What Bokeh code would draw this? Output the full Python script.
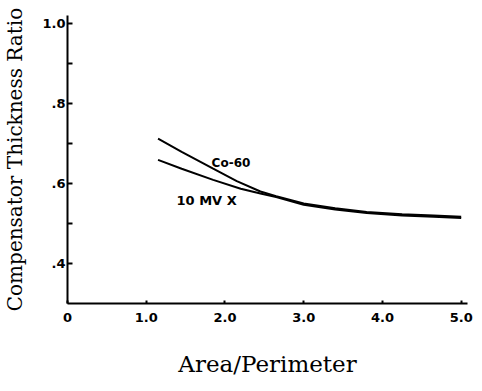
from bokeh.plotting import figure
from bokeh.models import Range1d, FixedTicker
from bokeh.embed import file_html
from bokeh.resources import INLINE
from bokeh.core.properties import value

# Data
x_co = [1.15, 1.45, 1.85, 2.15, 2.45, 2.65, 3.0, 3.4, 3.8, 4.25, 4.65, 5.0]
y_co = [0.712, 0.679, 0.637, 0.606, 0.580, 0.568, 0.550, 0.538, 0.529, 0.523, 0.520, 0.517]
x_mv = [1.15, 1.45, 1.85, 2.2, 2.45, 2.65, 3.0, 3.4, 3.8, 4.25, 4.65, 5.0]
y_mv = [0.659, 0.637, 0.609, 0.587, 0.575, 0.566, 0.547, 0.535, 0.526, 0.520, 0.517, 0.514]

x_ticks = [0, 1, 2, 3, 4, 5]
x_tick_labels = ["0", "1.0", "2.0", "3.0", "4.0", "5.0"]
y_ticks = [0.4, 0.6, 0.8, 1.0]
y_tick_labels = [".4", ".6", ".8", "1.0"]
y_minor = [0.5, 0.7, 0.9]

p = figure(frame_width=400, frame_height=288, output_backend="svg", toolbar_location=None,
           x_range=Range1d(0, 5.08), y_range=Range1d(0.3, 1.02),
           min_border_left=61, min_border_right=9, min_border_top=15, min_border_bottom=72)
p.outline_line_color = None
p.xgrid.grid_line_color = None
p.ygrid.grid_line_color = None
p.background_fill_color = "white"

p.line(x_co, y_co, line_color="black", line_width=2)
p.line(x_mv, y_mv, line_color="black", line_width=2)

lab_font = "DejaVu Sans"
p.text(x=[1.83], y=[0.6525], text=["Co-60"], text_font=value(lab_font), text_font_style="bold",
       text_font_size="12px", text_baseline="middle", text_align="left", text_color="black")
p.text(x=[1.385], y=[0.5575], text=["10  MV  X"], text_font=value(lab_font), text_font_style="bold",
       text_font_size="13px", text_baseline="middle", text_align="left", text_color="black")

for ax in (p.xaxis[0], p.yaxis[0]):
    ax.axis_line_color = "black"
    ax.axis_line_width = 2
    ax.major_tick_line_color = "black"
    ax.major_tick_line_width = 2
    ax.minor_tick_line_color = "black"
    ax.minor_tick_line_width = 2
    ax.major_label_text_font = lab_font
    ax.major_label_text_font_style = "bold"
    ax.major_label_text_font_size = "13px"
    ax.major_label_text_color = "black"
    ax.axis_label_text_font = "DejaVu Serif"
    ax.axis_label_text_font_style = "normal"
    ax.axis_label_text_color = "black"

xa = p.xaxis[0]
xa.ticker = FixedTicker(ticks=x_ticks)
xa.major_label_overrides = {t: l for t, l in zip(x_ticks, x_tick_labels)}
xa.major_tick_in = 3
xa.major_tick_out = 0
xa.minor_tick_line_color = None
xa.major_label_standoff = 9
xa.axis_label = "Area/Perimeter"
xa.axis_label_text_font_size = "23px"
xa.axis_label_standoff = 26

ya = p.yaxis[0]
ya.ticker = FixedTicker(ticks=y_ticks, minor_ticks=y_minor)
ya.major_label_overrides = {t: l for t, l in zip(y_ticks, y_tick_labels)}
ya.major_tick_in = 5
ya.major_tick_out = 0
ya.minor_tick_in = 5
ya.minor_tick_out = 0
ya.major_label_standoff = 2
ya.axis_label = "Compensator Thickness Ratio"
ya.axis_label_text_font_size = "20px"
ya.axis_label_standoff = 12

open("out.html", "w").write(file_html(p, INLINE))
